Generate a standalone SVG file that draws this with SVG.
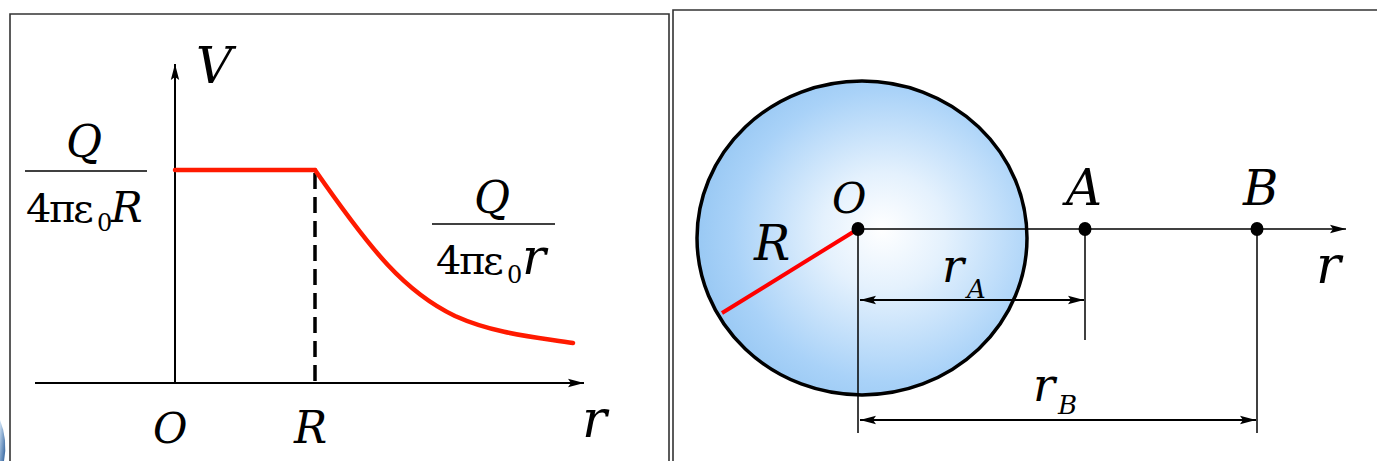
<svg xmlns="http://www.w3.org/2000/svg" width="1377" height="461" viewBox="0 0 1377 461">
<defs>
<style>
.ax{stroke:#000;stroke-width:2;fill:none}
.thin{stroke:#000;stroke-width:1.5;fill:none}
.red{stroke:#ff1a00;stroke-width:4.5;fill:none;stroke-linecap:round}
.it{font-family:'DejaVu Serif',serif;font-style:italic;fill:#000}
.up{font-family:'DejaVu Serif',serif;font-style:normal;fill:#000}
.frame{stroke:#333;stroke-width:1.6;fill:none}
</style>
<marker id="arr" viewBox="0 0 16 10" refX="16" refY="5" markerWidth="16" markerHeight="10" markerUnits="userSpaceOnUse" orient="auto-start-reverse">
<path d="M0,0.8 L16,5 L0,9.2 L3,5 Z" fill="#000"/>
</marker>
<radialGradient id="sph" cx="0.58" cy="0.5" r="0.62" fx="0.56" fy="0.47">
<stop offset="0" stop-color="#ffffff"/>
<stop offset="0.3" stop-color="#e4f1fd"/>
<stop offset="0.75" stop-color="#a9d2f8"/>
<stop offset="1" stop-color="#93c5f2"/>
</radialGradient>
<linearGradient id="blu" x1="0" y1="0" x2="1" y2="1">
<stop offset="0" stop-color="#cfe3f7"/>
<stop offset="1" stop-color="#2a5d9a"/>
</linearGradient>
</defs>
<rect width="1377" height="461" fill="#fff"/>
<path d="M0,420 Q8,440 4,461 L0,461 Z" fill="url(#blu)"/>
<g id="frames">
<path class="frame" d="M10,470 L10,14 L669,14 L669,470"/>
<path class="frame" d="M673,470 L673,10 L1377,10"/>
</g>
<g id="graph-connectors">
<line class="ax" x1="35" y1="383" x2="584" y2="383" marker-end="url(#arr)"/>
<line class="ax" x1="175" y1="383" x2="175" y2="64" marker-end="url(#arr)"/>
<line x1="315" y1="173" x2="315" y2="383" stroke="#000" stroke-width="3.5" stroke-dasharray="16,8"/>
<line class="red" x1="175" y1="170" x2="315" y2="170" stroke="#ff3300"/>
<path class="red" d="M315,170 C372,252 405,292 455,316 C495,334 535,337 573,343"/>
</g>
<g id="graph-labels">
<text class="it" x="196" y="83" font-size="50">V</text>
<text class="it" x="153" y="443" font-size="42">O</text>
<text class="it" x="294" y="443" font-size="44">R</text>
<text class="it" x="582" y="437" font-size="52">r</text>
</g>
<g id="fraction-inner">
<text class="it" x="66" y="157" font-size="44">Q</text>
<line class="thin" x1="25" y1="171" x2="147" y2="171"/>
<text class="up" y="222" font-size="40"><tspan x="26">4</tspan><tspan x="49">π</tspan><tspan x="73">ε</tspan></text>
<text class="up" x="97" y="231" font-size="24">0</text>
<text class="it" x="111" y="222" font-size="42">R</text>
</g>
<g id="fraction-outer">
<text class="it" x="474" y="213" font-size="44">Q</text>
<line class="thin" x1="432" y1="224" x2="555" y2="224"/>
<text class="up" y="274" font-size="40"><tspan x="436">4</tspan><tspan x="459">π</tspan><tspan x="483">ε</tspan></text>
<text class="up" x="507" y="283" font-size="24">0</text>
<text class="it" x="522" y="274" font-size="50">r</text>
</g>
<g id="sphere">
<ellipse cx="862" cy="238" rx="165" ry="157" fill="url(#sph)" stroke="#000" stroke-width="3.5"/>
</g>
<g id="sphere-connectors">
<line class="thin" x1="858" y1="229" x2="1346" y2="229" marker-end="url(#arr)"/>
<line class="thin" x1="858" y1="229" x2="858" y2="433"/>
<line class="thin" x1="1085" y1="229" x2="1085" y2="340"/>
<line class="thin" x1="1257" y1="229" x2="1257" y2="433"/>
<line class="ax" x1="860" y1="300" x2="1084" y2="300" marker-start="url(#arr)" marker-end="url(#arr)"/>
<line class="ax" x1="860" y1="420" x2="1256" y2="420" marker-start="url(#arr)" marker-end="url(#arr)"/>
<line x1="858" y1="229" x2="722" y2="313" stroke="#ff0000" stroke-width="4"/>
</g>
<g id="point-O">
<ellipse cx="858" cy="229" rx="6.5" ry="7" fill="#000"/>
<text class="it" x="832" y="213" font-size="42">O</text>
</g>
<g id="point-A">
<ellipse cx="1085" cy="229" rx="6.5" ry="7" fill="#000"/>
<text class="it" x="1066" y="205" font-size="50">A</text>
</g>
<g id="point-B">
<ellipse cx="1257" cy="229" rx="6.5" ry="7" fill="#000"/>
<text class="it" x="1243" y="205" font-size="48">B</text>
</g>
<g id="sphere-labels">
<text class="it" x="754" y="260" font-size="48">R</text>
<text class="it" x="1316" y="283" font-size="52">r</text>
<text class="it" x="942" y="282" font-size="46">r</text>
<text class="it" x="967" y="298" font-size="26">A</text>
<text class="it" x="1033" y="401" font-size="46">r</text>
<text class="it" x="1058" y="414" font-size="26">B</text>
</g>
</svg>
